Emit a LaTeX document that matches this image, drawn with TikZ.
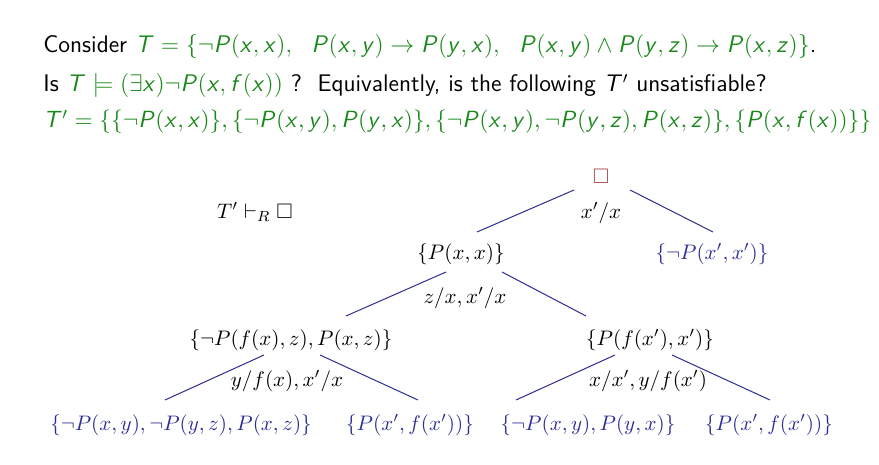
\RequirePackage{fix-cm}
\documentclass[tikz,border=0pt]{standalone}
\usepackage{amsmath}
\usepackage{amssymb}
\usetikzlibrary{calc}
\DeclareMathAlphabet{\mathsfit}{OT1}{cmss}{m}{sl}
\definecolor{verde}{RGB}{25,135,25}
\definecolor{azul}{RGB}{45,45,150}
\definecolor{rojo}{RGB}{165,60,60}

\tikzset{
    texto/.style={anchor=base west, inner sep=0pt, font=\fontsize{12}{14}\selectfont\sffamily},
    arbol/.style={inner sep=1pt, font=\fontsize{10.5}{12}\selectfont},
    hoja/.style={arbol, text=azul},
    rama/.style={azul, line width=0.5pt}
}

\begin{document}
\begin{tikzpicture}[x=0.5pt, y=-0.5pt]
    \useasboundingbox (0,0) rectangle (879,465);

    % Enunciado
    \node[texto] (l1) at (43,53) {Consider \textcolor{verde}{$\mathsfit{T=\{\neg P(x,x),\ \ P(x,y)\to P(y,x),\ \ P(x,y)\wedge P(y,z)\to P(x,z)\}}$}.};
    \node[texto] (l2) at (43,92) {Is \textcolor{verde}{$\mathsfit{T\models(\exists x)\neg P(x,f(x))}$} ?\ \ Equivalently, is the following $\mathsfit{T'}$ unsatisfiable?};
    \node[texto, text=verde, font=\fontsize{11.7}{14}\selectfont\sffamily] (l3) at (43,128) {$\mathsfit{T'=\{\{\neg P(x,x)\},\{\neg P(x,y),P(y,x)\},\{\neg P(x,y),\neg P(y,z),P(x,z)\},\{P(x,f(x))\}\}}$};

    % Derivacion
    \node[arbol] (deriv) at (255,212) {$T'\vdash_R\Box$};

    % Nodos del arbol
    \node[arbol, text=rojo] (root) at (601,176) {$\Box$};
    \node[arbol] (pxx) at (461,254) {$\{P(x,x)\}$};
    \node[hoja] (npxx) at (712,254) {$\{\neg P(x',x')\}$};
    \node[arbol] (mid1) at (291,340) {$\{\neg P(f(x),z),P(x,z)\}$};
    \node[arbol] (mid2) at (650,340) {$\{P(f(x'),x')\}$};
    \node[hoja] (leaf1) at (181,425) {$\{\neg P(x,y),\neg P(y,z),P(x,z)\}$};
    \node[hoja] (leaf2) at (410,425) {$\{P(x',f(x'))\}$};
    \node[hoja] (leaf3) at (588,425) {$\{\neg P(x,y),P(y,x)\}$};
    \node[hoja] (leaf4) at (769,425) {$\{P(x',f(x'))\}$};

    % Sustituciones
    \node[arbol] (s1) at (601,213) {$x'/x$};
    \node[arbol] (s2) at (465,298) {$z/x,x'/x$};
    \node[arbol] (s3) at (287,381) {$y/f(x),x'/x$};
    \node[arbol] (s4) at (648,381) {$x/x',y/f(x')$};

    % Ramas
    \draw[rama] ($(root)+(-27,14)$) -- ($(pxx)+(16,-22)$);
    \draw[rama] ($(root)+(29,14)$) -- ($(npxx)+(1,-22)$);
    \draw[rama] ($(pxx)+(-15,18)$) -- ($(mid1)+(55,-24)$);
    \draw[rama] ($(pxx)+(41,18)$) -- ($(mid2)+(-64,-24)$);
    \draw[rama] ($(mid1)+(-27,15)$) -- ($(leaf1)+(-16,-25)$);
    \draw[rama] ($(mid1)+(29,15)$) -- ($(leaf2)+(8,-25)$);
    \draw[rama] ($(mid2)+(-35,15)$) -- ($(leaf3)+(-72,-25)$);
    \draw[rama] ($(mid2)+(22,15)$) -- ($(leaf4)+(1,-25)$);

\end{tikzpicture}
\end{document}
